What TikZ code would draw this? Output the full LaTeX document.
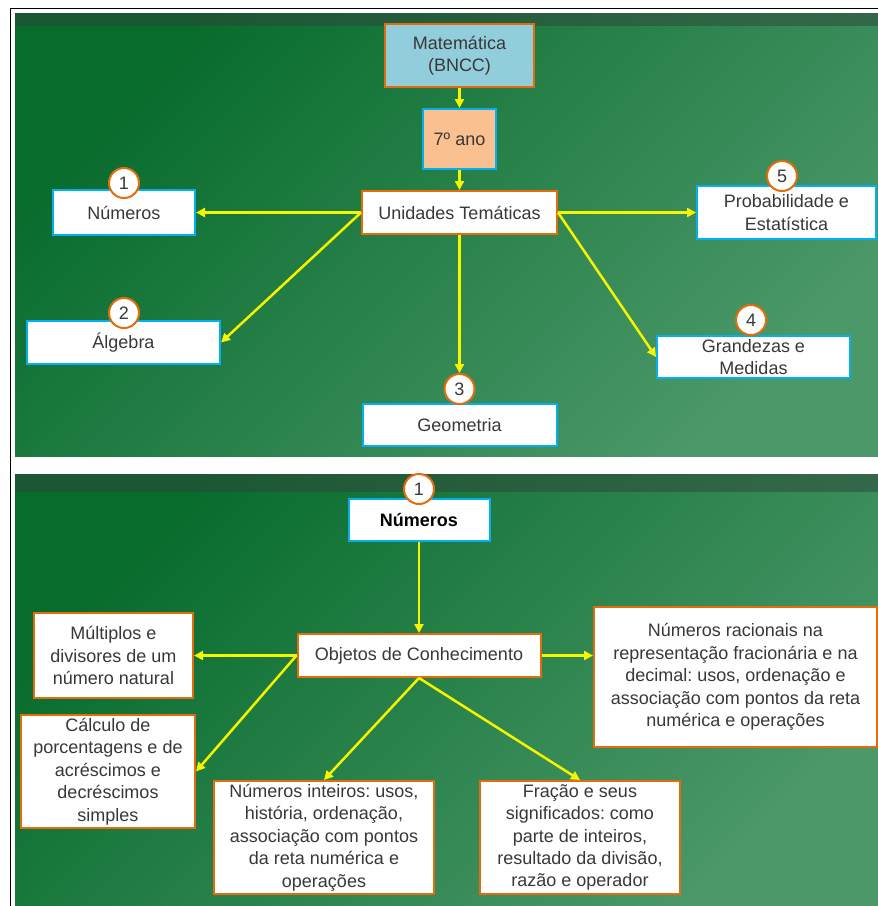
\documentclass[tikz,border=0pt]{standalone}
\usepackage{fontspec}
\setmainfont{Liberation Sans}
\usetikzlibrary{arrows.meta}
\definecolor{bord}{HTML}{E46C0A}
\definecolor{bblue}{HTML}{00B0F0}
\definecolor{matfill}{HTML}{92CDDC}
\definecolor{anofill}{HTML}{FAC090}
\definecolor{gdark}{HTML}{086C2D}
\definecolor{glight}{HTML}{4B9869}
\definecolor{strip}{HTML}{30443B}
\definecolor{txt}{HTML}{383838}
\definecolor{arrc}{HTML}{F5F500}
\frenchspacing
\begin{document}
\begin{tikzpicture}[x=1pt,y=-1pt,
 box/.style={rectangle, fill=white, line width=2pt, inner sep=0pt, align=center, text=txt, font=\fontsize{18}{22.4}\selectfont},
 obox/.style={box, draw=bord},
 bbox/.style={box, draw=bblue},
 circ/.style={circle, draw=bord, fill=white, line width=2pt, minimum size=30pt, inner sep=0pt, text=txt, font=\fontsize{18}{20}\selectfont},
 arr/.style={draw=arrc, line width=2.5pt, -{Triangle[length=9pt,width=9pt]}},
 panel/.style={top color=gdark, bottom color=glight, shading angle=45},
]
\useasboundingbox (0,0) rectangle (878,906);
\fill[white] (0,0) rectangle (878,906);
% panels
\shade[panel] (15,13) rectangle (878,456);
\fill[strip, opacity=0.5] (15,13) rectangle (878,26);
\shade[panel] (15,474) rectangle (878,906);
\fill[strip, opacity=0.5] (15,474) rectangle (878,492);
\draw[black, line width=1.5pt] (10.5,906) -- (10.5,8.5) -- (878,8.5);

% ---------- top panel ----------
\node[box, draw=bord, fill=matfill, minimum width=149pt, minimum height=63pt] (mat) at (459.5,55.5) {Matemática\\(BNCC)};
\node[box, draw=bblue, fill=anofill, minimum width=73pt, minimum height=60pt] (ano) at (459.5,139) {7º ano};
\node[obox, minimum width=195pt, minimum height=43pt] (ut) at (459.5,212.5) {Unidades Temáticas};
\node[bbox, minimum width=142pt, minimum height=45pt] (num) at (124,212.5) {Números};
\node[bbox, minimum width=179pt, minimum height=53pt] (prob) at (786.5,212.5) {Probabilidade e\\Estatística};
\node[bbox, minimum width=193pt, minimum height=43pt] (alg) at (123.5,342.5) {Álgebra};
\node[bbox, minimum width=193pt, minimum height=42pt] (gra) at (753.5,357) {Grandezas e\\Medidas};
\node[bbox, minimum width=194pt, minimum height=42pt] (geo) at (459.5,425) {Geometria};

\node[circ] (c1) at (124,183) {1};
\node[circ] (c2) at (124,313) {2};
\node[circ] (c3) at (459.5,389) {3};
\node[circ] (c4) at (751,320) {4};
\node[circ] (c5) at (782,176) {5};

\draw[arr] (mat.south) -- (ano.north);
\draw[arr] (ano.south) -- (ut.north);
\draw[arr] (ut.west) -- (num.east);
\draw[arr] (ut.east) -- (prob.west);
\draw[arr] (ut.west) -- (alg.east);
\draw[arr] (ut.south) -- (c3.north);
\draw[arr] (ut.east) -- (gra.west);

% ---------- bottom panel ----------
\node[bbox, minimum width=141pt, minimum height=42pt, font=\fontsize{18}{22.4}\selectfont\bfseries, text=black] (numb) at (419,520) {Números};
\node[obox, minimum width=243pt, minimum height=43pt] (oc) at (419,655.5) {Objetos de Conhecimento};
\node[obox, minimum width=159pt, minimum height=85pt] (mul) at (113.5,655.5) {Múltiplos e\\divisores de um\\número natural};
\node[obox, minimum width=174pt, minimum height=113pt] (cal) at (108,771.5) {Cálculo de\\porcentagens e de\\acréscimos e\\decréscimos\\simples};
\node[obox, minimum width=283pt, minimum height=140pt] (rac) at (735.5,677) {Números racionais na\\representação fracionária e na\\decimal: usos, ordenação e\\associação com pontos da reta\\numérica e operações};
\node[obox, minimum width=220pt, minimum height=113pt] (int) at (324,837.5) {Números inteiros: usos,\\história, ordenação,\\associação com pontos\\da reta numérica e\\operações};
\node[obox, minimum width=200pt, minimum height=113pt] (fra) at (580,837.5) {Fração e seus\\significados: como\\parte de inteiros,\\resultado da divisão,\\razão e operador};

\node[circ] (c1b) at (419,489) {1};

\draw[arr] (numb.south) -- (oc.north);
\draw[arr] (oc.west) -- (mul.east);
\draw[arr] (oc.east) -- (oc.east -| rac.west);
\draw[arr] (oc.west) -- (cal.east);
\draw[arr] (oc.south) -- (int.north);
\draw[arr] (oc.south) -- (fra.north);
\end{tikzpicture}
\end{document}
